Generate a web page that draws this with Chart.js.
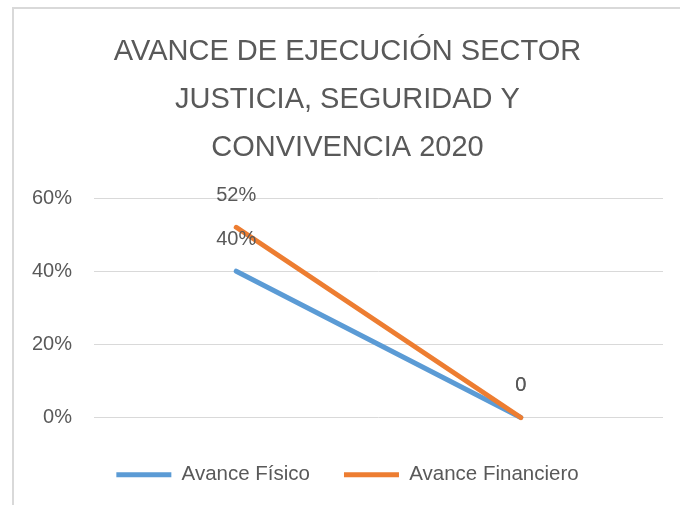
<!DOCTYPE html>
<html>
<head>
<meta charset="utf-8">
<script src="https://cdn.jsdelivr.net/npm/chart.js@4.4.0/dist/chart.umd.min.js"></script>
<style>
  html, body { margin: 0; padding: 0; background: #ffffff; overflow: hidden; width: 680px; height: 505px; }
  #frame { position: absolute; left: 12px; top: 7px; width: 680px; height: 512px; border: 2px solid #d9d9d9; background: #fff; overflow: hidden; }
  canvas { display: block; }
</style>
</head>
<body>
<div id="frame"><canvas id="c" width="680" height="512"></canvas></div>
<script>
const categories = ['', ''];
const avanceFisico = [0.40, 0];
const avanceFinanciero = [0.52, 0];
const labelsFisico = ['40%', '0'];
const labelsFinanciero = ['52%', '0'];
const yTicks = [0, 0.2, 0.4, 0.6];
const seriesNames = ['Avance Físico', 'Avance Financiero'];
const titleLines = ['AVANCE DE EJECUCIÓN SECTOR', 'JUSTICIA, SEGURIDAD Y', 'CONVIVENCIA 2020'];

const FONT = "'Liberation Sans', Arial, sans-serif";
const TEXT = '#595959';

const pointLabels = {
  id: 'pointLabels',
  afterDatasetsDraw(chart) {
    const ctx = chart.ctx;
    ctx.save();
    ctx.font = '20px ' + FONT;
    ctx.fillStyle = TEXT;
    ctx.textAlign = 'center';
    ctx.textBaseline = 'middle';
    chart.data.datasets.forEach((ds, di) => {
      const meta = chart.getDatasetMeta(di);
      meta.data.forEach((el, i) => {
        ctx.fillText(ds.pointText[i], el.x, el.y - 32);
      });
    });
    ctx.restore();
  }
};

new Chart(document.getElementById('c'), {
  type: 'line',
  data: {
    labels: categories,
    datasets: [
      {
        label: seriesNames[0],
        data: avanceFisico,
        pointText: labelsFisico,
        borderColor: '#5B9BD5',
        backgroundColor: '#5B9BD5',
        borderWidth: 5,
        borderCapStyle: 'round',
        borderJoinStyle: 'round',
        pointRadius: 0,
        pointHoverRadius: 0,
        pointStyle: 'line',
        tension: 0,
        clip: false,
        order: 1
      },
      {
        label: seriesNames[1],
        data: avanceFinanciero,
        pointText: labelsFinanciero,
        borderColor: '#ED7D31',
        backgroundColor: '#ED7D31',
        borderWidth: 5,
        borderCapStyle: 'round',
        borderJoinStyle: 'round',
        pointRadius: 0,
        pointHoverRadius: 0,
        pointStyle: 'line',
        tension: 0,
        clip: false,
        order: 0
      }
    ]
  },
  options: {
    responsive: false,
    maintainAspectRatio: false,
    animation: false,
    devicePixelRatio: 1,
    layout: { padding: { left: 18, right: 31, top: 0, bottom: 26 } },
    plugins: {
      tooltip: { enabled: false },
      title: {
        display: true,
        text: titleLines,
        color: TEXT,
        font: { family: FONT, size: 29, weight: 'normal', lineHeight: 48 / 29 },
        padding: { top: 18.5, bottom: 26.5 }
      },
      legend: {
        display: true,
        position: 'bottom',
        labels: {
          usePointStyle: true,
          pointStyleWidth: 55,
          color: TEXT,
          font: { family: FONT, size: 20.5 },
          padding: 34,
          sort: (a, b) => a.datasetIndex - b.datasetIndex
        }
      }
    },
    scales: {
      x: {
        display: true,
        offset: true,
        grid: { display: false, drawTicks: false },
        border: { display: false },
        ticks: { display: false },
        afterFit: (scale) => { scale.height = 13; }
      },
      y: {
        min: 0,
        max: 0.6,
        afterBuildTicks: (scale) => { scale.ticks = yTicks.map(v => ({ value: v })); },
        afterFit: (scale) => { scale.width = 62; },
        grid: { color: '#d9d9d9', lineWidth: 1, drawTicks: false },
        border: { display: false },
        ticks: {
          color: TEXT,
          font: { family: FONT, size: 20 },
          padding: 22,
          callback: (v) => Math.round(v * 100) + '%'
        }
      }
    }
  },
  plugins: [pointLabels]
});
</script>
</body>
</html>
